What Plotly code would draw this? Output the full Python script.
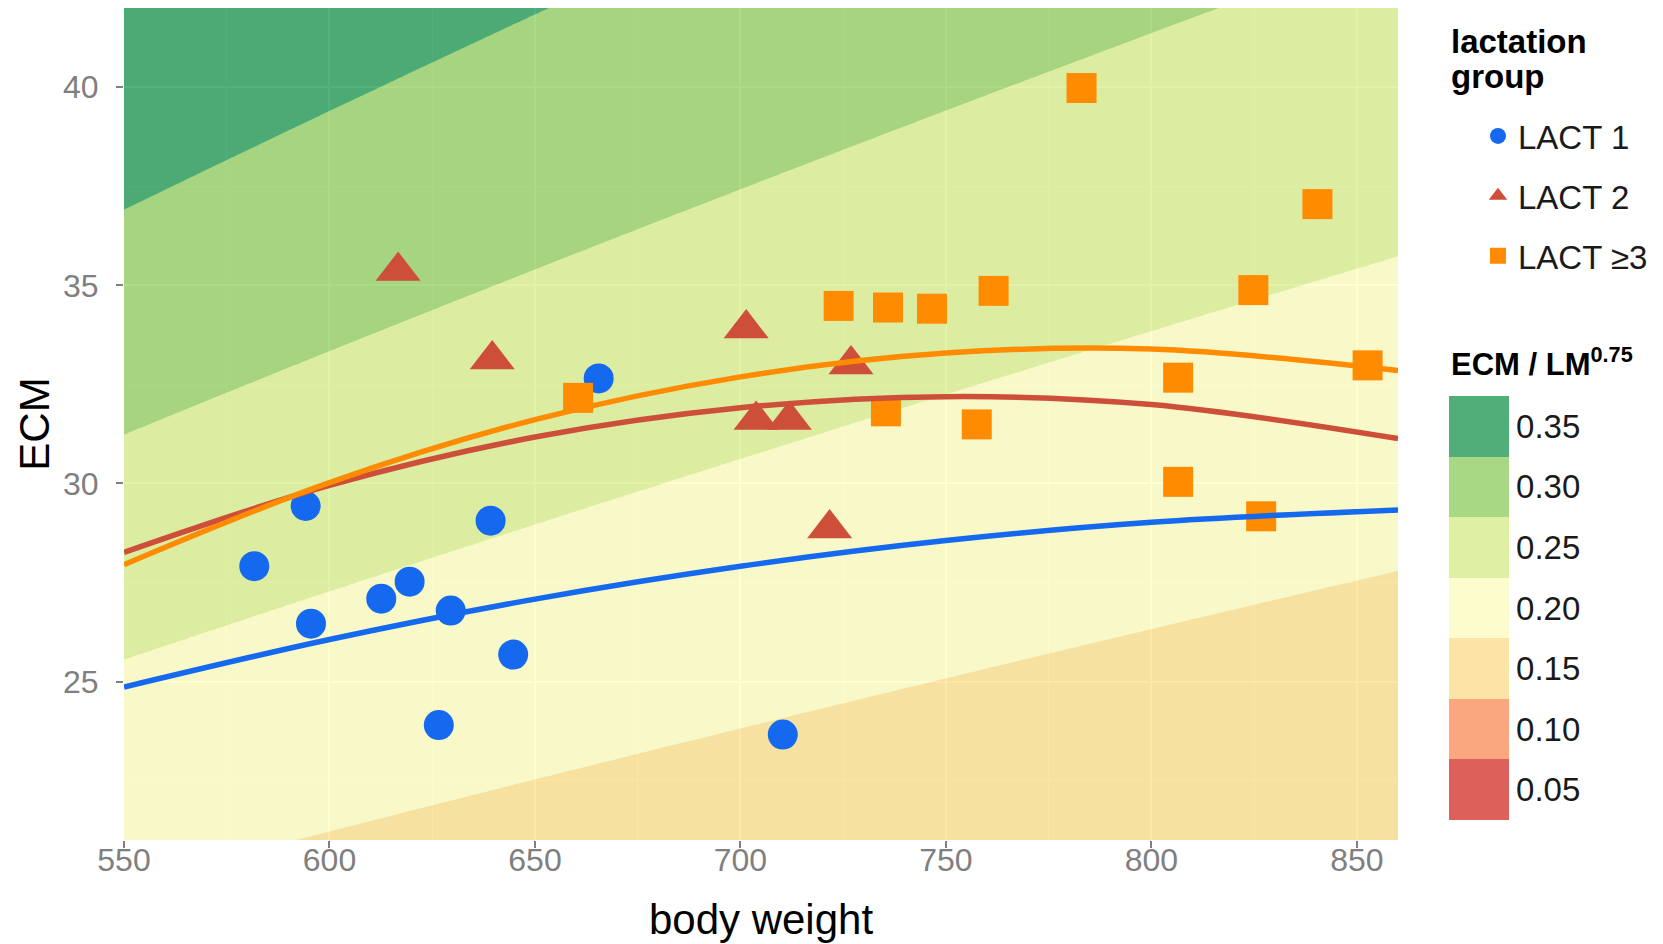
import numpy as np
import plotly.graph_objects as go

# ---------------- data ----------------
# LACT 1
bw_l1 = [581.7, 594.2, 595.5, 612.6, 619.5, 626.6, 629.5, 639.2, 644.7, 665.5, 710.3]
ecm_l1 = [27.91, 29.43, 26.46, 27.09, 27.52, 23.90, 26.79, 29.06, 25.68, 32.65, 23.66]
# LACT 2
bw_l2 = [616.7, 639.6, 701.4, 703.8, 711.9, 721.7, 726.9]
ecm_l2 = [35.36, 33.13, 33.91, 31.60, 31.60, 28.86, 33.00]
# LACT >=3
bw_l3 = [660.5, 723.9, 735.4, 735.9, 746.6, 757.5, 761.6, 783.0, 806.5, 806.5,
         824.8, 826.7, 840.4, 852.6]
ecm_l3 = [32.16, 34.48, 31.82, 34.44, 34.41, 31.49, 34.86, 39.98, 32.67, 30.04,
          34.88, 29.17, 37.05, 32.98]

# fitted curves
curve_bw = [550, 600, 650, 700, 750, 800, 860]
curve_l1 = [24.86, 26.06, 27.08, 27.91, 28.56, 29.02, 29.33]
curve_l2 = [28.26, 29.95, 31.17, 31.91, 32.19, 31.99, 31.13]
curve_l3 = [27.95, 30.02, 31.61, 32.69, 33.29, 33.39, 32.85]

# ECM / LM^0.75 classes
ratio_levels = [0.05, 0.10, 0.15, 0.20, 0.25, 0.30, 0.35]
ratio_labels = ["0.05", "0.10", "0.15", "0.20", "0.25", "0.30", "0.35"]
ratio_colors = ["#d73027", "#fc8d59", "#fee08b", "#ffffbf", "#d9ef8b", "#91cf60", "#1a9850"]

group_names = ["LACT 1", "LACT 2", "LACT \u22653"]
group_colors = ["#1569EE", "#CD4F39", "#FF8C00"]
group_symbols = ["circle", "triangle-up", "square"]
group_sizes = [30, 39, 30]

x_range = [550, 860]
y_range = [21, 42]
x_ticks = [550, 600, 650, 700, 750, 800, 850]
y_ticks = [25, 30, 35, 40]

# ---------------- layout constants (page pixels) ----------------
PAGE_W, PAGE_H = 1663, 944
OFF = 8                                   # default body margin of the html page
W, H = PAGE_W - OFF, PAGE_H - OFF         # figure size
P_LEFT, P_RIGHT, P_TOP, P_BOTTOM = 124, 1398, 8, 840   # plot panel in page pixels
ML, MR, MT, MB = P_LEFT - OFF, PAGE_W - P_RIGHT, P_TOP - OFF, PAGE_H - P_BOTTOM
PW, PH = P_RIGHT - P_LEFT, P_BOTTOM - P_TOP


def paper_x(page_px):
    return (page_px - P_LEFT) / PW


def paper_y(page_py):
    return (P_BOTTOM - page_py) / PH


def cont_x(page_px):
    return (page_px - OFF) / W


def cont_y(page_py):
    return 1 - (page_py - OFF) / H


def blend(hex_color, alpha, bg):
    h = hex_color.lstrip("#")
    r, g, b = (int(h[i:i + 2], 16) for i in (0, 2, 4))
    return "rgb({:.0f},{:.0f},{:.0f})".format(alpha * r + (1 - alpha) * bg,
                                               alpha * g + (1 - alpha) * bg,
                                               alpha * b + (1 - alpha) * bg)


def discrete_scale(colors):
    n = len(colors)
    scale = []
    for i, c in enumerate(colors):
        scale.append([i / n, c])
        scale.append([(i + 1) / n, c])
    return scale


step = 0.05
band_lo = ratio_levels[0] - step / 2          # 0.025
band_hi = ratio_levels[-1] + step / 2         # 0.375
n_cls = len(ratio_levels)

# background field ECM / BW^0.75, expressed as a class coordinate
# (band k of the key occupies [k, k+1])
gx = np.linspace(x_range[0], x_range[1], 320)
gy = np.linspace(y_range[0], y_range[1], 220)
GX, GY = np.meshgrid(gx, gy)
Z = (GY / GX ** 0.75 - band_lo) / step

fig = go.Figure()

fig.add_trace(go.Contour(
    x=gx, y=gy, z=Z,
    contours=dict(start=1, end=n_cls - 1, size=1, coloring="fill", showlines=False),
    line=dict(width=0),
    colorscale=[[k / (n_cls - 1), c] for k, c in enumerate(ratio_colors)],
    opacity=0.75,
    showscale=False,
    hoverinfo="skip",
    showlegend=False,
))

# colour key (legend keys blended over light-grey key background)
fig.add_trace(go.Scatter(
    x=[None], y=[None], mode="markers", showlegend=False, hoverinfo="skip",
    marker=dict(
        color=[0.2], cmin=band_lo, cmax=band_hi,
        colorscale=discrete_scale([blend(c, 0.75, 242) for c in ratio_colors]),
        showscale=True,
        colorbar=dict(
            xref="container", yref="paper",
            x=cont_x(1449), xanchor="left",
            y=paper_y(820), yanchor="bottom",
            thickness=60, thicknessmode="pixels",
            len=424, lenmode="pixels",
            xpad=0, ypad=0, outlinewidth=0,
            tickmode="array", tickvals=ratio_levels, ticktext=ratio_labels,
            ticks="", tickfont=dict(size=33, color="#1a1a1a"),
        ),
    ),
))

groups = [(bw_l1, ecm_l1), (bw_l2, ecm_l2), (bw_l3, ecm_l3)]
for i, (bx, ey) in enumerate(groups):
    fig.add_trace(go.Scatter(
        x=bx, y=ey, mode="markers", name=group_names[i],
        legendgroup=group_names[i],
        marker=dict(symbol=group_symbols[i], size=group_sizes[i],
                    color=group_colors[i], line=dict(width=0)),
        cliponaxis=False,
    ))

for i, cy in enumerate([curve_l1, curve_l2, curve_l3]):
    fig.add_trace(go.Scatter(
        x=curve_bw, y=cy, mode="lines", showlegend=False, hoverinfo="skip",
        line=dict(color=group_colors[i], width=5.5, shape="spline", smoothing=1.0),
    ))

axis_common = dict(
    showgrid=True, gridcolor="#FFFFFF", gridwidth=1.6,
    zeroline=False, showline=False, automargin=False,
    ticks="outside", ticklen=7, tickwidth=1.6, tickcolor="#7F7F7F",
    tickfont=dict(size=32, color="#7F7F7F", family="Liberation Sans, Arial, sans-serif"),
)

annotations = [
    dict(text="<b>lactation</b>", xref="paper", yref="paper",
         x=paper_x(1449), y=paper_y(42), xanchor="left", yanchor="middle",
         showarrow=False, font=dict(size=33, color="#000000")),
    dict(text="<b>group</b>", xref="paper", yref="paper",
         x=paper_x(1449), y=paper_y(76), xanchor="left", yanchor="middle",
         showarrow=False, font=dict(size=33, color="#000000")),
    dict(text="<b>ECM / LM<sup>0.75</sup></b>", xref="paper", yref="paper",
         x=paper_x(1449), y=paper_y(362), xanchor="left", yanchor="middle",
         showarrow=False, font=dict(size=31, color="#000000")),
]

fig.update_layout(
    width=W, height=H,
    margin=dict(l=ML, r=MR, t=MT, b=MB, autoexpand=False),
    paper_bgcolor="#FFFFFF",
    plot_bgcolor="#E5E5E5",
    font=dict(family="Liberation Sans, Arial, sans-serif", color="#000000"),
    xaxis=dict(range=x_range, tickmode="array", tickvals=x_ticks,
               ticklabelstandoff=-15,
               minor=dict(showgrid=True, gridcolor="#F2F2F2", gridwidth=0.8, dtick=25),
               title=dict(text="body weight", font=dict(size=42), standoff=27),
               **axis_common),
    yaxis=dict(range=y_range, tickmode="array", tickvals=y_ticks,
               ticklabelstandoff=11,
               minor=dict(showgrid=True, gridcolor="#F2F2F2", gridwidth=0.8,
                          tickvals=[22.5, 27.5, 32.5, 37.5]),
               title=dict(text="ECM", font=dict(size=42), standoff=0),
               **axis_common),
    legend=dict(
        xref="container", yref="container",
        x=cont_x(1478), xanchor="left", y=cont_y(108), yanchor="top",
        bgcolor="rgba(0,0,0,0)",
        font=dict(size=33, color="#1a1a1a"),
        traceorder="grouped", tracegroupgap=14,
        itemsizing="trace",
    ),
    annotations=annotations,
    showlegend=True,
)

fig.write_html("out.html")
